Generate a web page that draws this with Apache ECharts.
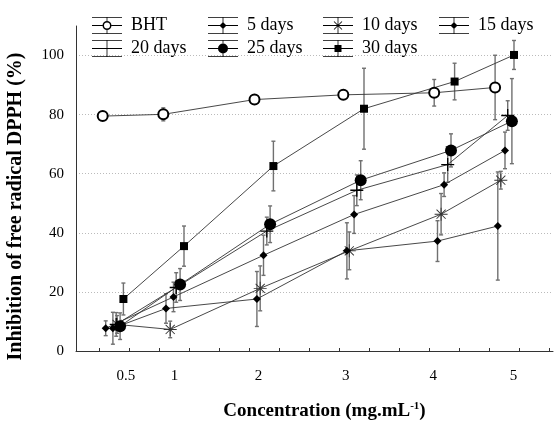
<!DOCTYPE html>
<html>
<head>
<meta charset="utf-8">
<script src="https://cdn.jsdelivr.net/npm/echarts@6/dist/echarts.min.js"></script>
<style>
  html, body { margin: 0; padding: 0; background: #fff; }
  #chart { width: 554px; height: 421px; }
</style>
</head>
<body>
<div id="chart"></div>
<script>
// x axis: points are spread around each concentration, positions in axis units
const xLabels = ['0.5', '1', '2', '3', '4', '5'];
const xLabelPos = [1.88, 3.50, 6.30, 9.21, 12.13, 14.80];
const xTickPos = [1, 2, 3, 4, 5, 6, 7, 8, 9, 10, 11, 12, 13, 14, 15, 16];
const yTicks = [0, 20, 40, 60, 80, 100];

const bhtX = [1.11, 3.13, 6.17, 9.13, 12.16, 14.19];
const bhtY = [79.5, 80.1, 85.1, 86.7, 87.4, 89.2];
const bhtErr = [0.5, 2.2, 0.8, 1.0, 4.5, 10.9];

const d5X = [1.21, 3.47, 6.47, 9.49, 12.49, 14.52];
const d5Y = [7.7, 18.3, 32.4, 46.2, 56.3, 67.9];
const d5Err = [2.5, 5.0, 6.8, 6.4, 4.0, 6.2];

const d10X = [1.59, 3.36, 6.36, 9.33, 12.39, 14.38];
const d10Y = [9.0, 7.3, 21.2, 33.9, 46.3, 57.8];
const d10Err = [3.0, 2.8, 7.6, 6.4, 7.0, 3.0];

const d15X = [1.45, 3.22, 6.25, 9.25, 12.27, 14.28];
const d15Y = [7.7, 14.4, 17.6, 33.9, 37.2, 42.3];
const d15Err = [5.4, 5.0, 9.3, 9.5, 6.9, 18.3];

const d20X = [1.56, 3.56, 6.58, 9.58, 12.61, 14.61];
const d20Y = [9.0, 21.5, 40.6, 54.4, 63.1, 79.7];
const d20Err = [4.0, 5.0, 4.7, 5.2, 6.0, 5.0];

const d25X = [1.69, 3.69, 6.69, 9.71, 12.72, 14.75];
const d25Y = [8.4, 22.5, 42.9, 57.8, 67.9, 77.8];
const d25Err = [4.5, 5.4, 6.2, 6.6, 5.6, 14.4];

const d30X = [1.80, 3.82, 6.80, 9.82, 12.84, 14.82];
const d30Y = [17.6, 35.5, 62.6, 82.0, 91.2, 100.2];
const d30Err = [5.4, 6.8, 8.4, 13.7, 6.2, 4.9];

const font = 'Liberation Serif';

// marker shapes for the chart
const plusPath = 'path://M-0.1,-1H0.1V1H-0.1Z M-1,-0.1H1V0.1H-1Z';
const starPath = 'path://M-0.07,-1H0.07V1H-0.07Z M-1,-0.07H1V0.07H-1Z ' +
  'M-0.75,-0.65L-0.65,-0.75L0.75,0.65L0.65,0.75Z M0.65,-0.75L0.75,-0.65L-0.65,0.75L-0.75,0.65Z';

// legend icons: error-bar box with the marker in the middle (30 x 17)
const box = 'M0,0H30V0.8H0Z M0,16.2H30V17H0Z ';
const fullCross = 'M0,8.1H30V8.9H0Z M14.6,0H15.4V17H14.6Z ';
const icons = {
  bht: 'path://' + box + 'M0,8.1H10.5V8.9H0Z M19.5,8.1H30V8.9H19.5Z M14.6,0H15.4V4H14.6Z M14.6,13H15.4V17H14.6Z ' +
    'M19.5,8.5A4.5,4.5 0 1 1 10.5,8.5A4.5,4.5 0 1 1 19.5,8.5Z M18,8.5A3,3 0 1 0 12,8.5A3,3 0 1 0 18,8.5Z',
  diamond: 'path://' + box + fullCross + 'M15,5L18.5,8.5L15,12L11.5,8.5Z',
  star: 'path://' + box + fullCross +
    'M10.7,4.8L11.3,4.2L19.3,12.2L18.7,12.8Z M18.7,4.2L19.3,4.8L11.3,12.8L10.7,12.2Z',
  plus: 'path://' + box + fullCross,
  dot: 'path://' + box + fullCross + 'M20,8.5A5,5 0 1 1 10,8.5A5,5 0 1 1 20,8.5Z',
  square: 'path://' + box + fullCross + 'M11.5,5H18.5V12H11.5Z'
};

function pts(xs, ys) {
  return xs.map((x, i) => [x, ys[i]]);
}
function bars(xs, ys, es) {
  return xs.map((x, i) => [x, ys[i] - es[i], ys[i] + es[i]]);
}

const groups = [
  { name: 'BHT', x: bhtX, y: bhtY, e: bhtErr, symbol: 'circle', size: 10, fill: '#fff', border: 2, icon: icons.bht },
  { name: '5 days', x: d5X, y: d5Y, e: d5Err, symbol: 'diamond', size: 8, fill: '#000', border: 0, icon: icons.diamond },
  { name: '10 days', x: d10X, y: d10Y, e: d10Err, symbol: starPath, size: 13, fill: '#333', border: 0, icon: icons.star },
  { name: '15 days', x: d15X, y: d15Y, e: d15Err, symbol: 'diamond', size: 8, fill: '#000', border: 0, icon: icons.diamond },
  { name: '20 days', x: d20X, y: d20Y, e: d20Err, symbol: plusPath, size: 13, fill: '#000', border: 0, icon: icons.plus },
  { name: '25 days', x: d25X, y: d25Y, e: d25Err, symbol: 'circle', size: 12, fill: '#000', border: 0, icon: icons.dot },
  { name: '30 days', x: d30X, y: d30Y, e: d30Err, symbol: 'rect', size: 8, fill: '#000', border: 0, icon: icons.square }
];

/**画误差线*/
function renderErr(params, api) {
  const lo = api.coord([api.value(0), api.value(1)]);
  const hi = api.coord([api.value(0), api.value(2)]);
  const cap = 2;
  const st = { stroke: '#707070', lineWidth: 1.4 };
  return {
    type: 'group',
    children: [
      { type: 'line', shape: { x1: lo[0], y1: lo[1], x2: hi[0], y2: hi[1] }, style: st },
      { type: 'line', shape: { x1: lo[0] - cap, y1: lo[1], x2: lo[0] + cap, y2: lo[1] }, style: st },
      { type: 'line', shape: { x1: hi[0] - cap, y1: hi[1], x2: hi[0] + cap, y2: hi[1] }, style: st }
    ]
  };
}

let errSeries = groups.map(g => ({
  type: 'custom',
  renderItem: renderErr,
  encode: { x: 0, y: [1, 2] },
  data: bars(g.x, g.y, g.e),
  z: 1,
  silent: true
}));

let lineSeries = groups.map(g => ({
  name: g.name,
  type: 'line',
  data: pts(g.x, g.y),
  symbol: g.symbol,
  symbolSize: g.size,
  showAllSymbol: true,
  lineStyle: { color: '#333', width: 0.9 },
  itemStyle: { color: g.fill, borderColor: '#000', borderWidth: g.border },
  z: 2,
  animation: false
}));

// legend columns, two rows each
const legendCols = [
  { left: 92, names: ['BHT', '20 days'] },
  { left: 208, names: ['5 days', '25 days'] },
  { left: 323, names: ['10 days', '30 days'] },
  { left: 439, names: ['15 days'] }
];
let legends = legendCols.map(c => ({
  orient: 'vertical',
  left: c.left,
  top: 16.5,
  padding: 0,
  itemWidth: 30,
  itemHeight: 17,
  itemGap: 5,
  selectedMode: false,
  itemStyle: { color: '#000', borderWidth: 0 },
  textStyle: { fontFamily: font, fontSize: 18, color: '#000', padding: [0, 0, 0, 4] },
  data: c.names.map(n => ({ name: n, icon: groups.find(g => g.name === n).icon }))
}));

let option = {
  animation: false,
  backgroundColor: '#fff',
  legend: legends,
  grid: { left: 76, right: 1, top: 26, bottom: 70, outerBoundsMode: 'none', containLabel: false },
  xAxis: {
    type: 'value',
    min: 0.22,
    max: 16.12,
    name: '{b|Concentration (mg.mL}{sup|-1}{b|)}',
    nameLocation: 'middle',
    nameGap: 50,
    nameTextStyle: {
      padding: [0, 0, 0, 20],
      rich: {
        b: { fontFamily: font, fontWeight: 'bold', fontSize: 19, color: '#000' },
        sup: { fontFamily: font, fontWeight: 'bold', fontSize: 11, color: '#000', verticalAlign: 'top', padding: [0, 0, 9, 0] }
      }
    },
    axisLine: { lineStyle: { color: '#333', width: 1 } },
    axisTick: { show: true, inside: true, length: 3, customValues: xTickPos, lineStyle: { color: '#333' } },
    axisLabel: {
      customValues: xLabelPos,
      margin: 18,
      fontFamily: font,
      fontSize: 15,
      color: '#000',
      formatter: function (v) {
        let best = 0;
        xLabelPos.forEach((p, i) => { if (Math.abs(p - v) < Math.abs(xLabelPos[best] - v)) best = i; });
        return xLabels[best];
      }
    },
    splitLine: { show: false }
  },
  yAxis: {
    type: 'value',
    min: 0,
    max: 110,
    name: 'Inhibition of free radical DPPH (%)',
    nameLocation: 'middle',
    nameGap: 50,
    nameTextStyle: { fontFamily: font, fontWeight: 'bold', fontSize: 20, color: '#000', padding: [0, 36, 0, 0] },
    axisLine: { show: true, lineStyle: { color: '#333', width: 1 } },
    axisTick: { show: false, customValues: yTicks },
    axisLabel: { customValues: yTicks, margin: 12, fontFamily: font, fontSize: 15, color: '#000' },
    splitLine: { show: true, lineStyle: { color: '#bbb', type: [1, 2], width: 1 } }
  },
  series: errSeries.concat(lineSeries)
};

let myChart = echarts.init(document.getElementById('chart'));
myChart.setOption(option);
</script>
</body>
</html>
